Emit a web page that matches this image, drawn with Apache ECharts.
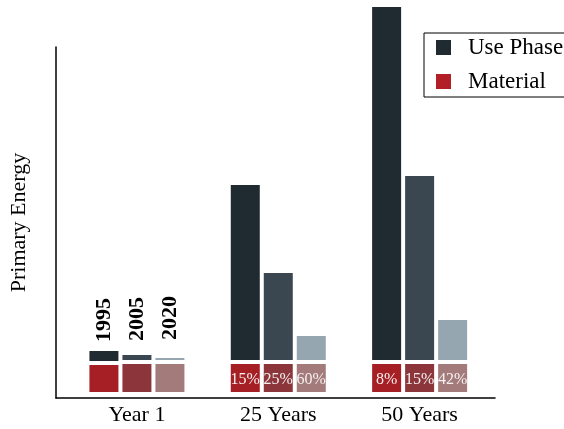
<!DOCTYPE html>
<html>
<head>
<meta charset="utf-8">
<script src="https://cdn.jsdelivr.net/npm/echarts@6/dist/echarts.min.js"></script>
<style>html,body{margin:0;padding:0;background:#fff;}#c{width:564px;height:429px;}</style>
</head>
<body>
<div id="c"></div>
<script>
const categories = ['Year 1', '25 Years', '50 Years'];
const years = ['1995', '2005', '2020'];
const usePhase1995 = [14, 179, 357];
const usePhase2005 = [9, 91, 188];
const usePhase2020 = [6, 28, 44];
const material1995 = [31, 32, 32];
const material2005 = [32, 32, 32];
const material2020 = [32, 32, 32];
const share1995 = ['', '15%', '8%'];
const share2005 = ['', '25%', '15%'];
const share2020 = ['', '60%', '42%'];

const useColors = ['#1f2a31', '#3a4751', '#95a6b0'];
const matColors = ['#a51f24', '#8c363c', '#a47b7b'];
const yearLabelGap = [7, 12, 16];
const FONT = '"Liberation Serif", "DejaVu Serif", serif';

const useData = [usePhase1995, usePhase2005, usePhase2020];
const matData = [material1995, material2005, material2020];
const shares = [share1995, share2005, share2020];

const series = [];
years.forEach(function (yr, k) {
  series.push({
    name: 'Material', type: 'bar', stack: 's' + yr, clip: false,
    xAxisIndex: 0, yAxisIndex: 0,
    barWidth: 33, barGap: '0%',
    itemStyle: { color: matColors[k], borderColor: '#fff', borderWidth: 2 },
    label: {
      show: true, position: 'inside', color: '#f4f0f0', fontFamily: FONT, fontSize: 16,
      offset: [0, 2],
      formatter: function (p) { return shares[k][p.dataIndex]; }
    },
    data: matData[k].slice()
  });
  series.push({
    name: 'Use Phase', type: 'bar', stack: 's' + yr, clip: false,
    xAxisIndex: 0, yAxisIndex: 0,
    barWidth: 33, barGap: '0%',
    itemStyle: { color: useColors[k], borderColor: '#fff', borderWidth: 2 },
    data: useData[k].map(function (v, i) {
      const item = { value: v };
      if (i === 0) {
        item.label = {
          show: true, position: 'top', rotate: 90, align: 'left', verticalAlign: 'middle',
          distance: yearLabelGap[k], formatter: yr, fontFamily: FONT, fontSize: 22, fontWeight: 'bold', color: '#000'
        };
      }
      return item;
    })
  });
});

const chart = echarts.init(document.getElementById('c'), null, { renderer: 'canvas' });
chart.setOption({
  animation: false,
  backgroundColor: '#fff',
  grid: [
    { left: 66.25, right: 73.7, top: 47, bottom: 31 },
    { left: 55, right: 69, top: 47, bottom: 31 }
  ],
  legend: {
    orient: 'vertical', left: 424, top: 33,
    data: [
      { name: 'Use Phase', itemStyle: { color: '#1f2a31' } },
      { name: 'Material', itemStyle: { color: '#b31f26' } }
    ],
    icon: 'rect', itemWidth: 17, itemHeight: 17, itemGap: 11,
    borderColor: '#000', borderWidth: 1, borderRadius: 0,
    padding: [3, 40, 4, 10],
    selectedMode: false,
    textStyle: { fontFamily: FONT, fontSize: 23, color: '#000', padding: [0, 0, 0, 11] }
  },
  xAxis: [
    {
      type: 'category', gridIndex: 0, data: categories,
      axisLine: { show: false }, axisTick: { show: false }, splitLine: { show: false },
      axisLabel: { fontFamily: FONT, fontSize: 22, color: '#000', margin: 6 }
    },
    {
      type: 'value', gridIndex: 1, min: 0, max: 1,
      axisLine: { show: true, onZero: false, lineStyle: { color: '#000', width: 1.5 } },
      axisTick: { show: false }, axisLabel: { show: false }, splitLine: { show: false }
    }
  ],
  yAxis: [
    {
      type: 'value', gridIndex: 0, min: -4, max: 347,
      axisLine: { show: false }, axisTick: { show: false }, axisLabel: { show: false }, splitLine: { show: false }
    },
    {
      type: 'value', gridIndex: 1, min: 0, max: 1,
      name: 'Primary Energy', nameLocation: 'middle', nameGap: 26,
      nameTextStyle: { fontFamily: FONT, fontSize: 22, color: '#000' },
      axisLine: { show: true, onZero: false, lineStyle: { color: '#000', width: 1.5 } },
      axisTick: { show: false }, axisLabel: { show: false }, splitLine: { show: false }
    }
  ],
  series: series
});
</script>
</body>
</html>
